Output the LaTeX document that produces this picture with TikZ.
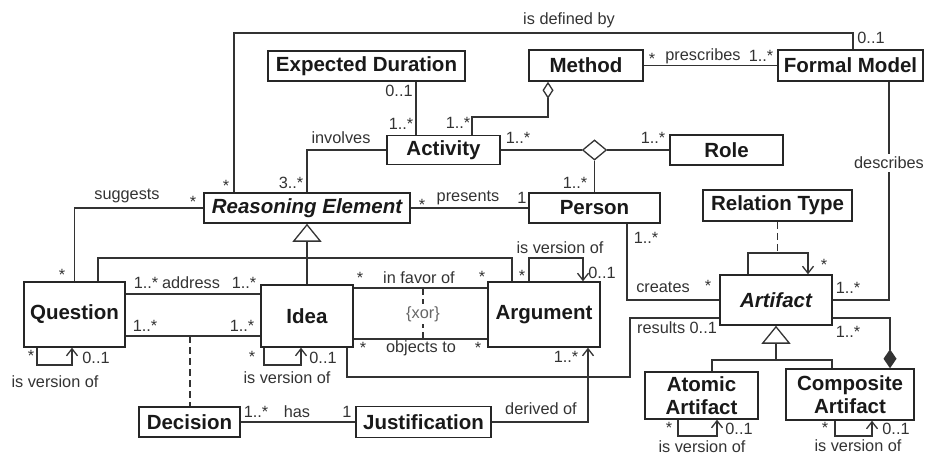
\documentclass[tikz,border=0pt]{standalone}
\usepackage{fontspec}
\setmainfont{Liberation Sans}
\usetikzlibrary{arrows.meta,shapes.geometric}
\begin{document}
\begin{tikzpicture}[x=1pt,y=-1pt,
  cls/.style={draw=black!85, line width=1.5pt, fill=white, inner sep=0pt,
    font=\fontsize{20.5}{23}\selectfont\bfseries, text=black!90, align=center},
  abs/.style={cls, font=\fontsize{20.5}{23}\selectfont\bfseries\itshape},
  lbl/.style={font=\fontsize{16.3}{18}\selectfont, text=black!80, inner sep=0pt},
  conn/.style={draw=black!80, line width=1.3pt},
  gen/.style={conn, -{Triangle[open, length=18pt, width=29pt]}},
  nav/.style={conn, -{Straight Barb[length=7pt, width=11pt]}},
  agg/.style={conn, -{Diamond[open, length=17pt, width=11pt]}},
  comp/.style={conn, -{Diamond[length=19pt, width=13pt]}},
  dep/.style={conn, dash pattern=on 7pt off 4pt}
]
\useasboundingbox (0,0) rectangle (925,457);

% classes
\node[cls, minimum width=197pt, minimum height=30pt] (ed) at (366.5,66) {Expected Duration};
\node[cls, minimum width=114pt, minimum height=31pt] (me) at (586,65.5) {Method};
\node[cls, minimum width=145pt, minimum height=31pt] (fm) at (850.5,65.5) {Formal Model};
\node[cls, minimum width=113pt, minimum height=29pt] (ac) at (443.5,150) {Activity};
\node[cls, minimum width=113pt, minimum height=30pt] (ro) at (726.5,150) {Role};
\node[abs, minimum width=206pt, minimum height=30pt] (re) at (307,208) {Reasoning Element};
\node[cls, minimum width=131pt, minimum height=30pt] (pe) at (594.5,208) {Person};
\node[cls, minimum width=149pt, minimum height=31pt] (rt) at (777.5,205.5) {Relation Type};
\node[cls, minimum width=101pt, minimum height=65pt] (qu) at (74.5,314.5) {Question};
\node[cls, minimum width=92pt, minimum height=62pt] (id) at (307,316) {Idea};
\node[cls, minimum width=112pt, minimum height=65pt] (ar) at (544,314.5) {Argument};
\node[abs, minimum width=112pt, minimum height=50pt] (at) at (776,300) {Artifact};
\node[cls, minimum width=101pt, minimum height=30pt] (de) at (189.5,422) {Decision};
\node[cls, minimum width=135pt, minimum height=31pt] (ju) at (423.5,422) {Justification};
\node[cls, minimum width=113pt, minimum height=47pt] (aa) at (701.5,395.5) {Atomic\\Artifact};
\node[cls, minimum width=128pt, minimum height=51pt] (ca) at (850,394.5) {Composite\\Artifact};
\node[diamond, draw=black!80, line width=1.3pt, fill=white, inner sep=0pt,
  minimum width=24pt, minimum height=20pt] (ag) at (594.5,150) {};

% helper coordinates
\coordinate (d1) at (234,33);
\coordinate (d2) at (853,33);
\coordinate (e1) at (416,100);
\coordinate (m1) at (472,117);
\coordinate (m2) at (548,117);
\coordinate (i1) at (307,148);
\coordinate (dx) at (889,200);
\coordinate (c1) at (627,300);
\coordinate (r1) at (347,377);
\coordinate (r3) at (630,318);
\coordinate (k1) at (890,318);
\coordinate (g1) at (712,360);
\coordinate (g2) at (832,360);
\coordinate (ga) at (776,360);
\coordinate (l1) at (748,253);
\coordinate (l2) at (808,253);
\coordinate (h1) at (98,258);
\coordinate (h2) at (512,258);
\coordinate (a1) at (0,294);
\coordinate (b1) at (190,336);
\coordinate (f1) at (0,288);
\coordinate (f2) at (0,339);
\coordinate (x1) at (423,288);
\coordinate (x2) at (423,339);
\coordinate (q1) at (37,365);
\coordinate (q2) at (72,365);
\coordinate (j1) at (264,365);
\coordinate (j2) at (301,365);
\coordinate (v1) at (529,258);
\coordinate (v2) at (583,258);
\coordinate (t1) at (678,436);
\coordinate (t2) at (717,436);
\coordinate (u1) at (835,436);
\coordinate (u2) at (872,436);
\coordinate (y1) at (588,400);

% connectors
\draw[conn] (re.north -| d1) -- (d1) -- (d2) -- (fm.north -| d2);
\draw[conn] (ed.south -| e1) -- (ac.north -| e1);
\draw[agg] (ac.north -| m1) -- (m1) -- (m2) -- (me.south -| m2);
\draw[conn] (re.north -| i1) |- (ac.west);
\draw[conn] (ac.east) -- (ag.west);
\draw[conn] (ag.east) -- (ro.west);
\draw[conn] (ag.south) -- (ag.south |- pe.north);
\draw[conn] (re.east) -- (pe.west);
\draw[conn] (me.east) -- (fm.west);
\draw[conn] (re.west) -| (qu.north);
\draw[conn] (fm.south -| dx) |- (at.east);
\draw[conn] (pe.south -| c1) |- (at.west);
\draw[conn] (id.south -| r1) -- (r1) -| (r3) -- (at.west |- r3);
\draw[comp] (at.east |- k1) -| (ca.north -| k1);
\draw[conn] (aa.north -| g1) |- (ga);
\draw[conn] (ca.north -| g2) |- (ga);
\draw[gen] (ga) -- (at.south);
\draw[nav] (at.north -| l1) |- (l2) -- (at.north -| l2);
\draw[dep] (rt.south) -- (rt.south |- l2);
\draw[conn] (qu.north -| h1) -- (h1) -- (h2) -- (ar.north -| h2);
\draw[gen] (id.north) -- (re.south);
\draw[conn] (qu.east |- a1) -- (id.west |- a1);
\draw[conn] (qu.east |- b1) -- (id.west |- b1);
\draw[dep] (b1) -- (de.north -| b1);
\draw[conn] (id.east |- f1) -- (ar.west |- f1);
\draw[conn] (id.east |- f2) -- (ar.west |- f2);
\draw[dep] (x1) -- (x2);
\draw[nav] (qu.south -| q1) |- (q2) -- (qu.south -| q2);
\draw[nav] (id.south -| j1) |- (j2) -- (id.south -| j2);
\draw[nav] (ar.north -| v1) |- (v2) -- (ar.north -| v2);
\draw[nav] (aa.south -| t1) |- (t2) -- (aa.south -| t2);
\draw[nav] (ca.south -| u1) |- (u2) -- (ca.south -| u2);
\draw[nav] (ju.east) -| (ar.south -| y1);
\draw[conn] (de.east) -- (ju.west);

% labels
\node[lbl] (n1) at (569,20) {is defined by};
\node[lbl] (n2) at (871,38) {0..1};
\node[lbl] (n3) at (226,185.5) {*};
\node[lbl] (n4) at (291,183) {3..*};
\node[lbl] (n5) at (341,138) {involves};
\node[lbl] (n6) at (399,91) {0..1};
\node[lbl] (n7) at (401,124) {1..*};
\node[lbl] (n8) at (458,123) {1..*};
\node[lbl] (n9) at (518,138) {1..*};
\node[lbl] (n10) at (653,138) {1..*};
\node[lbl] (n11) at (575,183) {1..*};
\node[lbl] (n12) at (422,205) {*};
\node[lbl] (n13) at (468,198) {presents};
\node[lbl] (n14) at (522,198) {1};
\node[lbl] (n15) at (652,59) {*};
\node[lbl] (n16) at (703,56) {prescribes};
\node[lbl] (n17) at (761,56) {1..*};
\node[lbl] (n18) at (127,196) {suggests};
\node[lbl] (n19) at (193,202) {*};
\node[lbl] (n20) at (62,275) {*};
\node[lbl, fill=white, inner sep=3pt] (n21) at (889,163) {describes};
\node[lbl] (n22) at (848,288) {1..*};
\node[lbl] (n23) at (848,332) {1..*};
\node[lbl] (n24) at (824,265) {*};
\node[lbl] (n25) at (663,287) {creates};
\node[lbl] (n26) at (708,286) {*};
\node[lbl] (n27) at (646,238) {1..*};
\node[lbl] (n28) at (677,328) {results 0..1};
\node[lbl] (n29) at (560,248) {is version of};
\node[lbl] (n30) at (602,273) {0..1};
\node[lbl] (n31) at (522,276) {*};
\node[lbl] (n32) at (482,277) {*};
\node[lbl] (n33) at (566,357) {1..*};
\node[lbl] (n34) at (541,409) {derived of};
\node[lbl] (n35) at (669,428) {*};
\node[lbl] (n36) at (739,429) {0..1};
\node[lbl] (n37) at (702,447) {is version of};
\node[lbl] (n38) at (825,428) {*};
\node[lbl] (n39) at (896,429) {0..1};
\node[lbl] (n40) at (858,446) {is version of};
\node[lbl] (n41) at (146,283) {1..*};
\node[lbl] (n42) at (191,283) {address};
\node[lbl] (n43) at (244,283) {1..*};
\node[lbl] (n44) at (145,326) {1..*};
\node[lbl] (n45) at (242,326) {1..*};
\node[lbl] (n46) at (31,356) {*};
\node[lbl] (n47) at (96,358) {0..1};
\node[lbl] (n48) at (55,382) {is version of};
\node[lbl] (n49) at (252,357) {*};
\node[lbl] (n50) at (323,358) {0..1};
\node[lbl] (n51) at (287,378) {is version of};
\node[lbl] (n52) at (256,412) {1..*};
\node[lbl] (n53) at (297,412) {has};
\node[lbl] (n54) at (347,412) {1};
\node[lbl] (n55) at (360,278) {*};
\node[lbl] (n56) at (419,278) {in favor of};
\node[lbl] (n57) at (363,348) {*};
\node[lbl] (n58) at (421,348) {objects to};
\node[lbl] (n59) at (478,348) {*};
\node[lbl, fill=white, inner sep=2pt, text=black!60] (n60) at (423,314) {\{xor\}};
\end{tikzpicture}
\end{document}
